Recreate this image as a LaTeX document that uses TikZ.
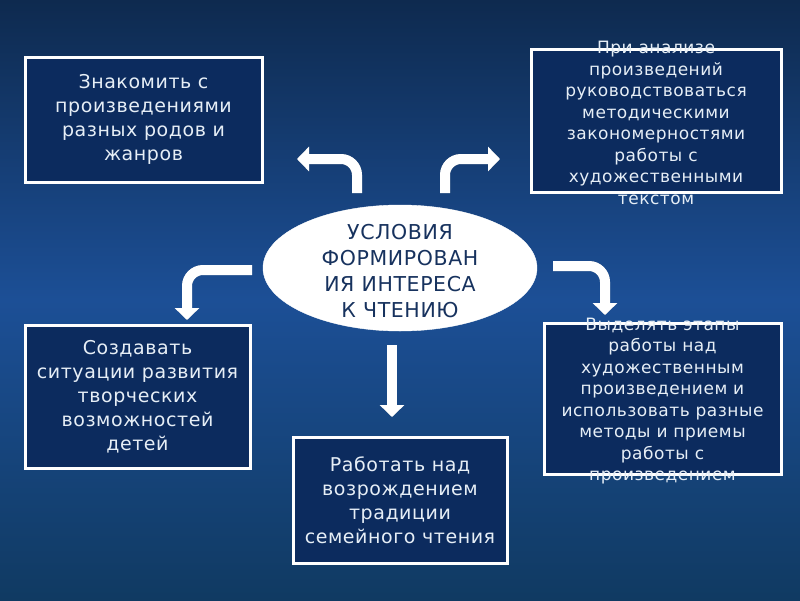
\documentclass[tikz,border=0pt]{standalone}
\usepackage{fontspec}
\setmainfont{DejaVu Sans}
\usetikzlibrary{arrows.meta,shapes.geometric}
\definecolor{bgtop}{HTML}{0E2A4F}
\definecolor{bgmid}{HTML}{1C4F96}
\definecolor{bgbot}{HTML}{103A62}
\definecolor{boxfill}{HTML}{0C2B5E}
\definecolor{boxtext}{HTML}{E6EEF6}
\definecolor{elltext}{HTML}{17325E}
\tikzset{
  box/.style={draw=white, line width=3pt, fill=boxfill, inner sep=0pt},
  bigtxt/.style={text=boxtext, align=center, font=\fontsize{19}{24}\selectfont\addfontfeature{LetterSpace=3}},
  smalltxt/.style={text=boxtext, align=center, font=\fontsize{17}{21.5}\selectfont\addfontfeature{LetterSpace=3}},
  arr/.style={draw=white, line width=10pt, rounded corners=16pt, -{Triangle[width=24pt,length=12pt]}},
  arrsh/.style={draw=black!55, opacity=0.5, line width=10pt, rounded corners=16pt, -{Triangle[width=24pt,length=12pt]}},
}
\begin{document}
\begin{tikzpicture}[x=1pt,y=-1pt]
\useasboundingbox (0,0) rectangle (800,600);
\shade[top color=bgtop, bottom color=bgbot, middle color=bgmid] (0,0) rectangle (800,600);

% boxes
\node[box, minimum width=237pt, minimum height=125pt] (b1) at (143.5,119.5) {};
\node[bigtxt] at (b1.center) {Знакомить с\\произведениями\\разных родов и\\жанров};

\node[box, minimum width=250pt, minimum height=143pt] (b2) at (656,120.5) {};
\node[smalltxt] at (656,123) {При анализе\\произведений\\руководствоваться\\методическими\\закономерностями\\работы с\\художественными\\текстом};

\node[box, minimum width=225pt, minimum height=143pt] (b3) at (137.5,396.5) {};
\node[bigtxt] at (b3.center) {Создавать\\ситуации развития\\творческих\\возможностей\\детей};

\node[box, minimum width=214pt, minimum height=126pt] (b4) at (400,500) {};
\node[bigtxt] at (b4.center) {Работать над\\возрождением\\традиции\\семейного чтения};

\node[box, minimum width=237pt, minimum height=151pt] (b5) at (662.5,398.5) {};
\node[smalltxt] at (662.5,401) {Выделять этапы\\работы над\\художественным\\произведением и\\использовать разные\\методы и приемы\\работы с\\произведением};

% ellipse
\node[ellipse, fill=white, draw=white, minimum width=274pt, minimum height=126pt, inner sep=0pt] (c) at (400,268) {};
\node[text=elltext, align=center, font=\fontsize{20.5}{26}\selectfont\addfontfeature{LetterSpace=3}] at (400,271)
  {УСЛОВИЯ\\ФОРМИРОВАН\\ИЯ ИНТЕРЕСА\\К ЧТЕНИЮ};

% arrow coordinates
\coordinate (a1s) at (357,193); \coordinate (a1e) at (297,159);
\coordinate (a2s) at (445,193); \coordinate (a2e) at (500,159);
\coordinate (a3s) at (252,270); \coordinate (a3e) at (187,320);
\coordinate (a4s) at (553,266); \coordinate (a4e) at (605,315);
\coordinate (a5s) at (392,345); \coordinate (a5e) at (392,417);

% shadows
\begin{scope}[shift={(2,2)}]
\draw[arrsh] (a1s) |- (a1e);
\draw[arrsh] (a2s) |- (a2e);
\draw[arrsh] (a3s) -| (a3e);
\draw[arrsh] (a4s) -| (a4e);
\draw[arrsh] (a5s) -- (a5e);
\end{scope}
% arrows
\draw[arr] (a1s) |- (a1e);
\draw[arr] (a2s) |- (a2e);
\draw[arr] (a3s) -| (a3e);
\draw[arr] (a4s) -| (a4e);
\draw[arr] (a5s) -- (a5e);
\end{tikzpicture}
\end{document}
